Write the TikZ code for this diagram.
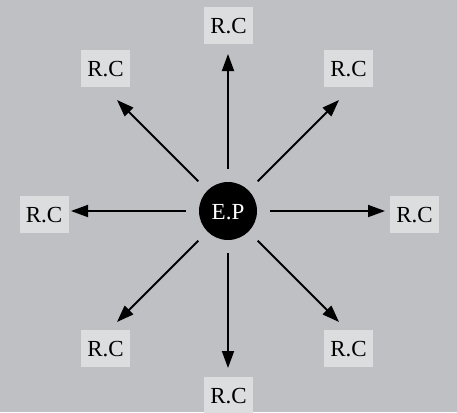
\documentclass[tikz,border=0pt]{standalone}
\usepackage{fontspec}
\setmainfont{Liberation Serif}
\usetikzlibrary{arrows.meta}
\definecolor{bggray}{HTML}{BFC0C4}
\definecolor{boxgray}{HTML}{DCDDDF}
\begin{document}
\begin{tikzpicture}[x=1pt,y=-1pt,
  rcbox/.style={fill=boxgray, minimum width=49pt, minimum height=37pt, inner sep=0pt,
    text height=16pt, text depth=0pt, font=\fontsize{23}{27}\selectfont},
  epnode/.style={circle, fill=black, minimum size=58pt, inner sep=0pt, text=white,
    text height=16pt, text depth=0pt, font=\fontsize{23}{27}\selectfont},
  arr/.style={line width=1.8pt, -{Triangle[length=17pt,width=12pt]}, shorten <=42pt}]
\useasboundingbox (0,0) rectangle (457,412);
\clip (0,0) rectangle (457,412);
\fill[bggray] (0,0) rectangle (457,412);
\node[epnode] (ep) at (228,211) {E.P};
\node[rcbox] (t) at (228.5,25.5) {R.C};
\node[rcbox] (tr) at (348.5,68.5) {R.C};
\node[rcbox] (r) at (414.5,214) {R.C};
\node[rcbox] (br) at (348.5,348.5) {R.C};
\node[rcbox] (b) at (228.5,395.5) {R.C};
\node[rcbox] (bl) at (105.5,348.5) {R.C};
\node[rcbox] (l) at (44,214.5) {R.C};
\node[rcbox] (tl) at (105.5,68.5) {R.C};
\coordinate (at) at (228,54);
\coordinate (atr) at (339,100);
\coordinate (ar) at (385,211);
\coordinate (abr) at (339,322);
\coordinate (ab) at (228,368);
\coordinate (abl) at (117,322);
\coordinate (al) at (71,211);
\coordinate (atl) at (117,100);
\foreach \c in {at,atr,ar,abr,ab,abl,al,atl}{
  \draw[arr] (ep.center) -- (\c);
}
\end{tikzpicture}
\end{document}
